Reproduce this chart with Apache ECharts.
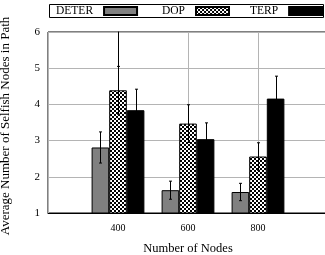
<!DOCTYPE html>
<html>
<head>
<meta charset="utf-8">
<script src="https://cdn.jsdelivr.net/npm/echarts@6/dist/echarts.min.js"></script>
<style>
	html, body { margin: 0; padding: 0; background: #fff; }
	#main { width: 325px; height: 255px; }
</style>
</head>
<body>
<div id="main"></div>
<script type="text/javascript">
	// data
	var categories = ['400', '600', '800'];
	var seriesNames = ['DETER', 'DOP', 'TERP'];
	var deter = [2.81, 1.63, 1.58];
	var deterErr = [0.43, 0.25, 0.24];
	var dop = [4.39, 3.47, 2.56];
	var dopErr = [0.66, 0.52, 0.38];
	var terp = [3.84, 3.04, 4.16];
	var terpErr = [0.58, 0.45, 0.62];
	var yTicks = [1, 2, 3, 4, 5, 6];

	var barW = 17.6;
	var font = '"Liberation Serif", "DejaVu Serif", serif';

	// checkerboard fill for DOP
	var cv = document.createElement('canvas');
	cv.width = 4; cv.height = 4;
	var ctx = cv.getContext('2d');
	ctx.fillStyle = '#fff';
	ctx.fillRect(0, 0, 4, 4);
	ctx.fillStyle = '#000';
	ctx.fillRect(0, 0, 2, 2);
	ctx.fillRect(2, 2, 2, 2);
	var checker = { image: cv, repeat: 'repeat' };

	function pts(vals) {
		return vals.map(function (v, i) { return [i, v]; });
	}

	// error bars, offset by the bar position inside the group
	function errSeries(vals, errs, k) {
		return {
			type: 'custom',
			z: 10,
			silent: true,
			data: vals.map(function (v, i) { return [i, v - errs[i], v + errs[i]]; }),
			renderItem: function (params, api) {
				var lo = api.coord([api.value(0), api.value(1)]);
				var hi = api.coord([api.value(0), api.value(2)]);
				var x = Math.round(lo[0] + (k - 1) * barW) + 0.5;
				var st = { stroke: '#000', lineWidth: 1 };
				return {
					type: 'group',
					children: [
						{ type: 'line', shape: { x1: x, y1: lo[1], x2: x, y2: hi[1] }, style: st },
						{ type: 'line', shape: { x1: x - 1.5, y1: lo[1], x2: x + 1.5, y2: lo[1] }, style: st },
						{ type: 'line', shape: { x1: x - 1.5, y1: hi[1], x2: x + 1.5, y2: hi[1] }, style: st }
					]
				};
			}
		};
	}

	function legendAt(name, left) {
		return {
			data: [{ name: name, icon: 'rect' }],
			left: left,
			top: 5,
			align: 'right',
			padding: 0,
			itemWidth: 33,
			itemHeight: 8,
			itemGap: 0,
			selectedMode: false,
			textStyle: { fontFamily: font, fontSize: 11.5, color: '#000', padding: [0, 6, 0, 0] }
		};
	}

	var chart = echarts.init(document.getElementById('main'));
	var option = {
		animation: false,
		backgroundColor: '#fff',
		textStyle: { fontFamily: font },
		legend: [legendAt('DETER', 56), legendAt('DOP', 162), legendAt('TERP', 250)],
		graphic: [{
			type: 'rect',
			shape: { x: 49.5, y: 4.5, width: 274, height: 13 },
			style: { fill: 'none', stroke: '#000', lineWidth: 1 },
			z: -1
		}],
		grid: {
			left: 48, top: 32, right: -3, bottom: 42,
			outerBoundsMode: 'none',
			containLabel: false,
			show: true, borderColor: '#000', borderWidth: 1
		},
		xAxis: {
			type: 'value',
			min: -1, max: 3, interval: 1,
			name: 'Number of Nodes',
			nameLocation: 'middle',
			nameGap: 29,
			nameTextStyle: { fontFamily: font, fontSize: 12.5, color: '#000' },
			axisLine: { lineStyle: { color: '#000' } },
			axisTick: { show: false },
			axisLabel: {
				fontFamily: font, fontSize: 10, color: '#000', margin: 10,
				formatter: function (v) { return categories[v] !== undefined ? categories[v] : ''; }
			},
			splitLine: { show: true, lineStyle: { color: '#b4b4b4', width: 1 } }
		},
		yAxis: {
			type: 'value',
			min: yTicks[0], max: yTicks[yTicks.length - 1], interval: 1,
			name: 'Average Number of Selfish Nodes in Path',
			nameLocation: 'middle',
			nameGap: 36,
			nameTextStyle: { fontFamily: font, fontSize: 13, color: '#000', padding: [0, 7, 0, 0] },
			axisLine: { show: true, lineStyle: { color: '#000' } },
			axisTick: { show: false },
			axisLabel: { fontFamily: font, fontSize: 11, color: '#000', margin: 8 },
			splitLine: { show: true, lineStyle: { color: '#b4b4b4', width: 1 } }
		},
		series: [
			{
				name: seriesNames[0], type: 'bar', barWidth: barW, barGap: '0%',
				data: pts(deter),
				itemStyle: { color: '#808080', borderColor: '#000', borderWidth: 1 }
			},
			{
				name: seriesNames[1], type: 'bar', barWidth: barW, barGap: '0%',
				data: pts(dop),
				itemStyle: { color: checker, borderColor: '#000', borderWidth: 1 }
			},
			{
				name: seriesNames[2], type: 'bar', barWidth: barW, barGap: '0%',
				data: pts(terp),
				itemStyle: { color: '#000', borderColor: '#000', borderWidth: 1 }
			},
			errSeries(deter, deterErr, 0),
			errSeries(dop, dopErr, 1),
			errSeries(terp, terpErr, 2)
		]
	};
	chart.setOption(option);
</script>
</body>
</html>
